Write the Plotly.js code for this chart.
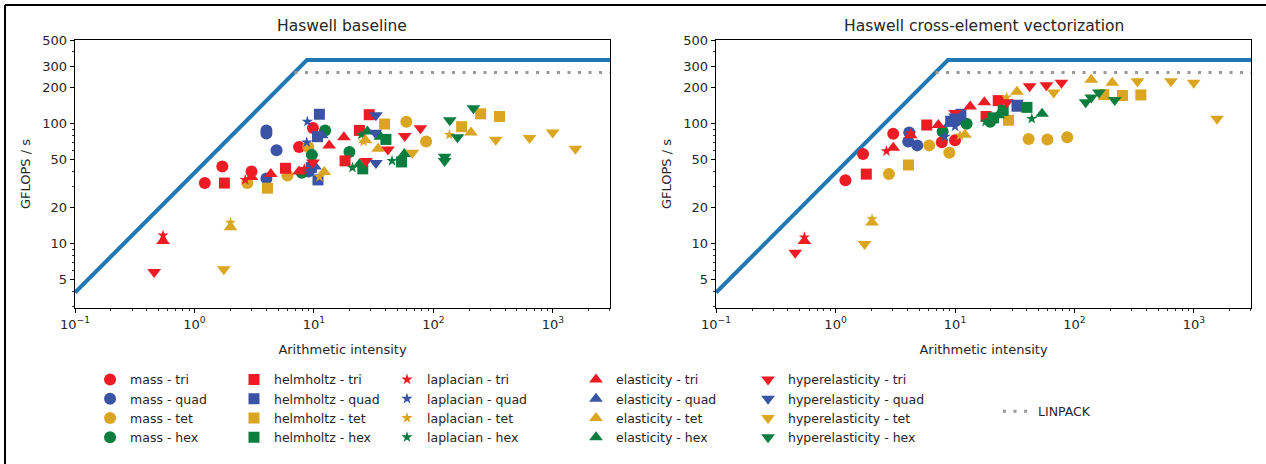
<!DOCTYPE html>
<html>
<head>
<meta charset="utf-8">
<script src="https://cdn.plot.ly/plotly-3.0.1.min.js"></script>
<style>html,body{margin:0;padding:0;background:#fff;}#chart{width:1266px;height:464px;}</style>
</head>
<body>
<div id="chart"></div>
<script>
// ---------- Roofline model values ----------
const peakGflops = 340;      // GFLOP/s
const bandwidth = 39;        // GB/s
const linpackGflops = 268;   // GFLOP/s
const aiLimits = [0.1, 3000];

// ---------- Categories ----------
const kernels = ['mass', 'helmholtz', 'laplacian', 'elasticity', 'hyperelasticity'];
const cells = ['tri', 'quad', 'tet', 'hex'];
const panelTitles = ['Haswell baseline', 'Haswell cross-element vectorization'];

// ---------- Haswell baseline: [arithmetic intensity, GFLOPS/s] ----------
const base_mass_tri = [[1.22,32],[1.71,44],[3.0,40],[7.5,64],[9.8,92]];
const base_mass_quad = [[4.0,88],[4.0,83],[4.86,60],[4.0,35],[9.0,40],[9.6,44]];
const base_mass_tet = [[2.77,32],[6.0,37],[8.96,64],[59.3,104],[86.8,71]];
const base_mass_hex = [[7.9,39],[9.6,55],[12.4,88],[19.8,58]];
const base_helmholtz_tri = [[1.78,32],[5.77,42.5],[18.2,49],[24,88],[29,119]];
const base_helmholtz_quad = [[11.1,120],[10.7,78],[10.8,34],[9.5,43]];
const base_helmholtz_tet = [[4.08,29],[39,99.5],[172,94.5],[248,121],[357,115]];
const base_helmholtz_hex = [[25.6,42],[40,74],[54,48]];
const base_laplacian_tri = [[0.546,11.7],[2.66,34],[8.3,42]];
const base_laplacian_quad = [[8.8,104],[8.7,70],[9.2,40]];
const base_laplacian_tet = [[2.0,15],[11.1,36],[26,71],[136,81]];
const base_laplacian_hex = [[21,43],[24.9,81],[45,49]];
const base_elasticity_tri = [[0.546,10.5],[3.0,36],[4.35,38],[7.5,40],[13.4,66],[17.8,77]];
const base_elasticity_quad = [[10.2,44],[11.6,80]];
const base_elasticity_tet = [[2.0,13.7],[12.2,39.5],[34.4,62],[206,84.5],[27,73]];
const base_elasticity_hex = [[24,46],[28,86],[36,78],[57,56]];
const base_hyperelasticity_tri = [[0.46,5.8],[9.8,47.6],[27.3,49],[41.6,61],[57.5,79],[77.8,91.6]];
const base_hyperelasticity_quad = [[33,118],[32.5,84],[33,47]];
const base_hyperelasticity_tet = [[1.76,6.1],[66.6,57.3],[332,73.7],[637,76],[994,84.5],[1540,61.8]];
const base_hyperelasticity_hex = [[124,49],[124,53],[137,107],[159,77],[216,135]];

// ---------- Haswell cross-element vectorization ----------
const vec_mass_tri = [[1.21,33.8],[1.70,56],[3.04,82.5],[7.75,70],[10,72.8]];
const vec_mass_quad = [[4.14,84.5],[4.06,71],[4.83,66],[10.5,108]];
const vec_mass_tet = [[2.8,38],[6.08,66],[8.96,57.3],[41.3,74.5],[59.3,74],[86.9,77]];
const vec_mass_hex = [[7.88,86],[12.5,100],[19.7,104]];
const vec_helmholtz_tri = [[1.81,38],[5.8,97.6],[18.2,115],[23,156]];
const vec_helmholtz_quad = [[9.2,105],[11.2,120],[33,140]];
const vec_helmholtz_tet = [[4.08,45.3],[28,107],[176,175],[252,172],[359,174]];
const vec_helmholtz_hex = [[25.3,129],[40,137],[21,112]];
const vec_laplacian_tri = [[0.549,11.3],[2.67,59],[4.27,83]];
const vec_laplacian_quad = [[8.23,78],[10,95]];
const vec_laplacian_tet = [[2.02,16],[11,80],[27,166]];
const vec_laplacian_hex = [[43.9,110],[20,108],[18,104]];
const vec_elasticity_tri = [[0.549,10.5],[3.04,63],[4.27,80],[7.25,97.6],[13.4,139],[17.6,151]];
const vec_elasticity_quad = [[10.5,112],[9,100]];
const vec_elasticity_tet = [[2.02,15],[12.1,81],[33,185],[138,233],[207,220]];
const vec_elasticity_hex = [[53.5,121],[23,118]];
const vec_hyperelasticity_tri = [[0.46,8.4],[10,123],[27.2,151],[42.1,206],[58.2,210],[77.8,220]];
const vec_hyperelasticity_quad = [[10,115],[33,150]];
const vec_hyperelasticity_tet = [[1.75,9.9],[67,182],[336,226],[641,226],[994,220],[1560,110]];
const vec_hyperelasticity_hex = [[124,151],[138,166],[160,182],[217,158]];

// ---------- Axis ticks ----------
const xTickVals = [0.1, 1, 10, 100, 1000];
const xTickText = ['10<sup>\u22121</sup>', '10<sup>0</sup>', '10<sup>1</sup>', '10<sup>2</sup>', '10<sup>3</sup>'];
const yTickVals = [5, 10, 20, 50, 100, 200, 300, 500];
const yTickText = ['5', '10', '20', '50', '100', '200', '300', '500'];

// ---------- Lookup tables built from the arrays ----------
const DATA = [
  {
    mass: {tri: base_mass_tri, quad: base_mass_quad, tet: base_mass_tet, hex: base_mass_hex},
    helmholtz: {tri: base_helmholtz_tri, quad: base_helmholtz_quad, tet: base_helmholtz_tet, hex: base_helmholtz_hex},
    laplacian: {tri: base_laplacian_tri, quad: base_laplacian_quad, tet: base_laplacian_tet, hex: base_laplacian_hex},
    elasticity: {tri: base_elasticity_tri, quad: base_elasticity_quad, tet: base_elasticity_tet, hex: base_elasticity_hex},
    hyperelasticity: {tri: base_hyperelasticity_tri, quad: base_hyperelasticity_quad, tet: base_hyperelasticity_tet, hex: base_hyperelasticity_hex}
  },
  {
    mass: {tri: vec_mass_tri, quad: vec_mass_quad, tet: vec_mass_tet, hex: vec_mass_hex},
    helmholtz: {tri: vec_helmholtz_tri, quad: vec_helmholtz_quad, tet: vec_helmholtz_tet, hex: vec_helmholtz_hex},
    laplacian: {tri: vec_laplacian_tri, quad: vec_laplacian_quad, tet: vec_laplacian_tet, hex: vec_laplacian_hex},
    elasticity: {tri: vec_elasticity_tri, quad: vec_elasticity_quad, tet: vec_elasticity_tet, hex: vec_elasticity_hex},
    hyperelasticity: {tri: vec_hyperelasticity_tri, quad: vec_hyperelasticity_quad, tet: vec_hyperelasticity_tet, hex: vec_hyperelasticity_hex}
  }
];

const COLORS = {tri: '#ED1C24', quad: '#3A53A4', tet: '#DAA520', hex: '#0B7D3E'};
const SYMBOLS = {mass: 'circle', helmholtz: 'square', laplacian: 'star', elasticity: 'triangle-up', hyperelasticity: 'triangle-down'};
const SIZES = {mass: 12, helmholtz: 11, laplacian: 8.5, elasticity: 12, hyperelasticity: 12};
const LEGENDS = {mass: 'legend', helmholtz: 'legend2', laplacian: 'legend3', elasticity: 'legend4', hyperelasticity: 'legend5'};

const FONT = 'DejaVu Sans, Liberation Sans, sans-serif';
const TEXT = '#262626';

const traces = [];
[0, 1].forEach(function (p) {
  const xa = p === 0 ? 'x' : 'x2';
  const ya = p === 0 ? 'y' : 'y2';
  // roofline
  traces.push({
    type: 'scatter', mode: 'lines', xaxis: xa, yaxis: ya, showlegend: false, hoverinfo: 'skip',
    x: [aiLimits[0], peakGflops / bandwidth, aiLimits[1]],
    y: [bandwidth * aiLimits[0], peakGflops, peakGflops],
    line: {color: '#1F77B4', width: 4}
  });
  // LINPACK
  traces.push({
    type: 'scatter', mode: 'lines', xaxis: xa, yaxis: ya, name: 'LINPACK',
    showlegend: p === 0, legend: 'legend6',
    x: [linpackGflops / bandwidth, aiLimits[1]],
    y: [linpackGflops, linpackGflops],
    line: {color: '#999999', width: 3, dash: '3px,7.5px'}
  });
  kernels.forEach(function (k) {
    cells.forEach(function (c) {
      const pts = DATA[p][k][c];
      traces.push({
        type: 'scatter', mode: 'markers', xaxis: xa, yaxis: ya,
        name: k + ' - ' + c,
        showlegend: p === 0, legend: LEGENDS[k],
        x: pts.map(function (d) { return d[0]; }),
        y: pts.map(function (d) { return d[1]; }),
        marker: {symbol: SYMBOLS[k], size: SIZES[k], color: COLORS[c], line: {width: 0}}
      });
    });
  });
});

// minor tick positions (2..9 within each decade)
const minorX = [];
for (let e = -1; e <= 3; e++) for (let m = 2; m <= 9; m++) minorX.push(m * Math.pow(10, e));
const minorY = [3, 4, 6, 7, 8, 9, 30, 40, 60, 70, 80, 90, 400];

function xAxis(domain, anchor) {
  return {
    type: 'log', domain: domain, anchor: anchor,
    range: [Math.log10(aiLimits[0]), Math.log10(aiLimits[1])],
    showline: true, linecolor: '#000', linewidth: 1.3, mirror: true,
    showgrid: false, zeroline: false,
    ticks: 'outside', ticklen: 4, tickwidth: 1, tickcolor: '#000',
    tickmode: 'array', tickvals: xTickVals, ticktext: xTickText,
    minor: {tickmode: 'array', tickvals: minorX, ticks: 'outside', ticklen: 2, tickwidth: 0.8, tickcolor: '#000', showgrid: false},
    tickfont: {family: FONT, size: 13, color: TEXT},
    title: {text: 'Arithmetic intensity', font: {family: FONT, size: 13, color: TEXT}, standoff: 14}
  };
}
function yAxis(anchor) {
  return {
    type: 'log', anchor: anchor, domain: [0, 1],
    range: [Math.log10(2.9), Math.log10(500)],
    showline: true, linecolor: '#000', linewidth: 1.3, mirror: true,
    showgrid: false, zeroline: false,
    ticks: 'outside', ticklen: 4, tickwidth: 1, tickcolor: '#000',
    tickmode: 'array', tickvals: yTickVals, ticktext: yTickText,
    minor: {tickmode: 'array', tickvals: minorY, ticks: 'outside', ticklen: 2, tickwidth: 0.8, tickcolor: '#000', showgrid: false},
    tickfont: {family: FONT, size: 13, color: TEXT},
    title: {text: 'GFLOPS / s', font: {family: FONT, size: 13, color: TEXT}, standoff: 8}
  };
}

const legendBase = {
  orientation: 'v', yanchor: 'top', xanchor: 'left',
  bgcolor: 'rgba(0,0,0,0)', borderwidth: 0,
  font: {family: FONT, size: 12.5, color: TEXT}, traceorder: 'normal'
};
function legendAt(x, y) { return Object.assign({}, legendBase, {x: x, y: y}); }

const legendTop = -0.212;
const layout = {
  width: 1266, height: 464,
  margin: {l: 75, r: 15, t: 40, b: 148, pad: 0},
  paper_bgcolor: '#fff', plot_bgcolor: '#fff',
  font: {family: FONT, color: TEXT},
  xaxis: xAxis([0, 0.4549], 'y'),
  yaxis: yAxis('x'),
  xaxis2: xAxis([0.5451, 1], 'y2'),
  yaxis2: yAxis('x2'),
  legend: legendAt(0.0128, legendTop),
  legend2: legendAt(0.1352, legendTop),
  legend3: legendAt(0.2653, legendTop),
  legend4: legendAt(0.4260, legendTop),
  legend5: legendAt(0.5723, legendTop),
  legend6: legendAt(0.7849, -0.331),
  annotations: [
    {text: panelTitles[0], xref: 'paper', yref: 'paper', x: 0.4549 / 2, y: 1.0507, xanchor: 'center', yanchor: 'middle', showarrow: false, font: {family: FONT, size: 15.5, color: TEXT}},
    {text: panelTitles[1], xref: 'paper', yref: 'paper', x: (0.5451 + 1) / 2, y: 1.0507, xanchor: 'center', yanchor: 'middle', showarrow: false, font: {family: FONT, size: 15.5, color: TEXT}}
  ],
  shapes: [
    {type: 'line', xref: 'paper', yref: 'paper', x0: -0.0595, x1: 1.02, y0: 1.1304, y1: 1.1304, line: {color: '#000', width: 2}},
    {type: 'line', xref: 'paper', yref: 'paper', x0: -0.0595, x1: -0.0595, y0: 1.1304, y1: -0.6, line: {color: '#000', width: 2}}
  ]
};

Plotly.newPlot('chart', traces, layout, {displayModeBar: false, staticPlot: true});
</script>
</body>
</html>
